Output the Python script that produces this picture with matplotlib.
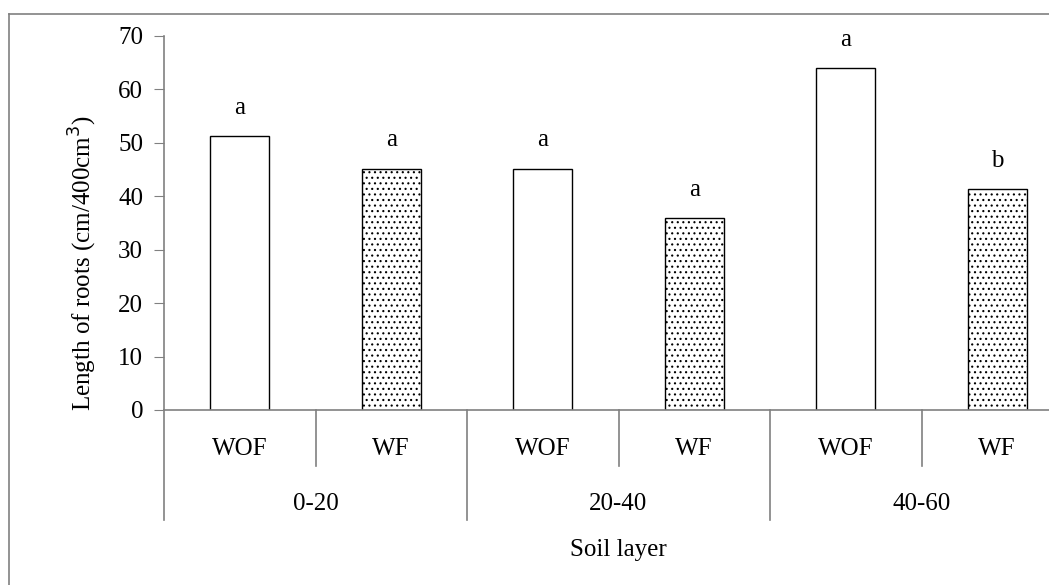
#!/usr/bin/env python3
"""
Root length per soil layer, with and without fertiliser
"""
import matplotlib
matplotlib.use('Agg')
import matplotlib.pyplot as plt
from matplotlib.lines import Line2D
import matplotlib.transforms as mtransforms

layers = ['0-20', '20-40', '40-60']
treatments = ['WOF', 'WF']
root_length = [51.2, 45.2, 45.2, 35.9, 64.0, 41.4]
letters = ['a', 'a', 'a', 'a', 'a', 'b']

plt.rcParams['font.family'] = ['Liberation Serif', 'DejaVu Serif']
plt.rcParams['hatch.linewidth'] = 0.8
plt.rcParams['hatch.color'] = '#333333'

W, H = 1049, 585
fig = plt.figure(figsize=(W / 100, H / 100), dpi=100)

# outer frame (cropped on right and bottom in the original)
fig.add_artist(Line2D([9 / W, 9 / W], [0, 1 - 14 / H], color='#808080', lw=1.2))
fig.add_artist(Line2D([9 / W, 1], [1 - 14 / H, 1 - 14 / H], color='#808080', lw=1.2))

ax = fig.add_axes([164 / W, 175 / H, 909 / W, 374 / H])
gray = '#808080'

n = len(root_length)
pos = [i + 0.5 for i in range(n)]
for i in range(n):
    if i % 2 == 0:
        ax.bar(pos[i], root_length[i], width=0.39, color='white',
               edgecolor='black', linewidth=1)
    else:
        ax.bar(pos[i], root_length[i], width=0.39, color='white',
               edgecolor='black', linewidth=1, hatch='...')
    ax.text(pos[i], root_length[i] + 3.2, letters[i], ha='center',
            va='bottom', fontsize=18)

ax.set_xlim(0, n)
ax.set_ylim(0, 70)
ax.set_yticks(range(0, 71, 10))
ax.set_xticks([])
ax.tick_params(axis='y', length=7, color=gray, labelsize=18, pad=8)
for s in ['top', 'right']:
    ax.spines[s].set_visible(False)
for s in ['left', 'bottom']:
    ax.spines[s].set_color(gray)
    ax.spines[s].set_linewidth(1.2)

ax.set_ylabel('Length of roots (cm/400cm$^3$)', fontsize=18)
ax.yaxis.set_label_coords(-0.071, 0.393)

# two-level category axis
tr = mtransforms.blended_transform_factory(ax.transData, ax.transAxes)
for i in range(n):
    ax.text(pos[i], -0.104, treatments[i % 2], transform=tr, ha='center',
            va='center', fontsize=18)
for i in range(1, n, 2):
    ax.add_line(Line2D([i, i], [0, -0.150], transform=tr, color=gray,
                       lw=1.2, clip_on=False))
for g in range(len(layers) + 1):
    ax.add_line(Line2D([2 * g, 2 * g], [0, -0.294], transform=tr, color=gray,
                       lw=1.2, clip_on=False))
for g, name in enumerate(layers):
    ax.text(2 * g + 1, -0.251, name, transform=tr, ha='center', va='center',
            fontsize=18)

fig.text(618 / W, 1 - 550 / H, 'Soil layer', ha='center', va='center',
         fontsize=18)

fig.savefig('out.png', dpi=100)
